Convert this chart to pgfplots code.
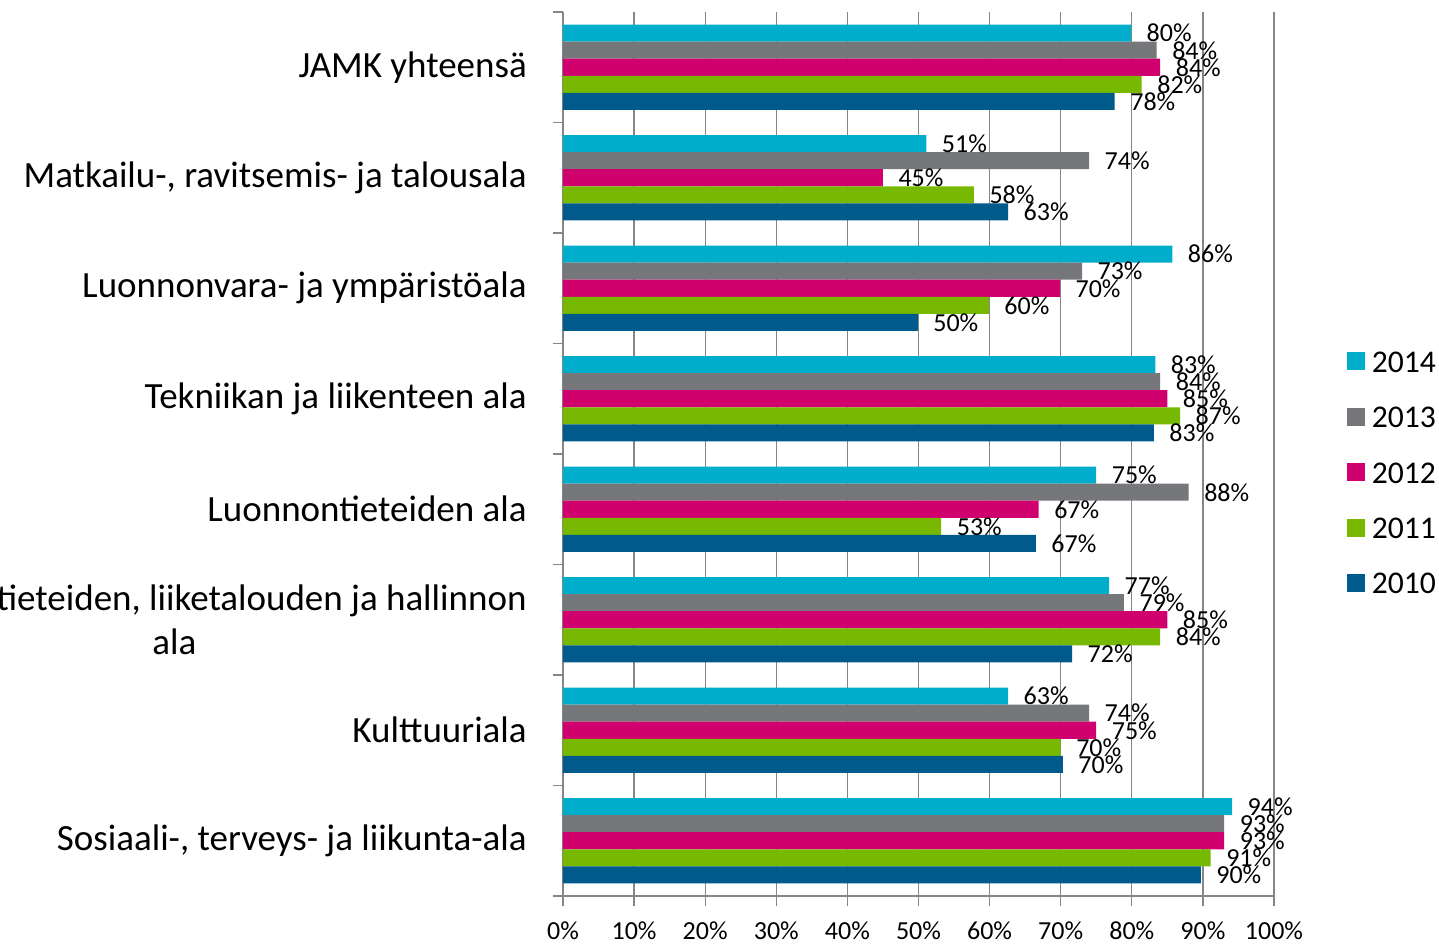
\documentclass[border=0pt]{standalone}
\usepackage{fontspec}
\setmainfont{Carlito}
\usepackage{pgfplots}
\pgfplotsset{compat=1.18}
\definecolor{c2014}{HTML}{00AECB}
\definecolor{c2013}{HTML}{76777B}
\definecolor{c2012}{HTML}{D1006F}
\definecolor{c2011}{HTML}{76B900}
\definecolor{c2010}{HTML}{005A8C}
\definecolor{gridc}{HTML}{868686}
\begin{document}
\begin{tikzpicture}
\begin{axis}[
  at={(0,0)}, anchor=south west,
  scale only axis, width=533.25pt, height=663pt,
  xmin=0, xmax=100, ymin=-0.5, ymax=7.5,
  xbar, bar width=0.154,
  /pgf/number format/assume math mode=true,
  axis lines*=left,
  axis line style={gridc, line width=1pt},
  xtick={0,10,...,100},
  xticklabel={\pgfmathprintnumber{\tick}\%},
  xmajorgrids, grid style={gridc, line width=1pt},
  tick align=outside,
  major tick length=7.5pt, minor tick length=7.5pt,
  x tick style={gridc, line width=1pt},
  xticklabel style={inner sep=0pt, yshift=-11.5pt, font=\fontsize{19.5}{20}\selectfont},
  ytick={0,...,7},
  minor ytick={-0.5,0.5,...,7.5},
  major y tick style={draw=none},
  minor y tick style={draw=gridc, line width=1pt},
  yticklabels={{Sosiaali-, terveys- ja liikunta-ala}, Kulttuuriala, {Yhteiskuntatieteiden, liiketalouden ja hallinnon\\ala}, Luonnontieteiden ala, Tekniikan ja liikenteen ala, Luonnonvara- ja ympäristöala, {Matkailu-, ravitsemis- ja talousala}, JAMK yhteensä},
  yticklabel style={align=center, inner sep=0pt, xshift=-19.5pt, font=\fontsize{27.75}{33}\selectfont},
  point meta=explicit,
  nodes near coords={\pgfmathprintnumber{\pgfplotspointmeta}\%},
  nodes near coords style={anchor=west, inner sep=0pt, xshift=11.5pt, text=black, font=\fontsize{19.5}{20}\selectfont},
  legend style={at={(axis description cs:1.102,0.4785)}, anchor=west, draw=none, fill=none, inner sep=0pt,
    font=\fontsize{23.7}{24}\selectfont, row sep=26.6pt,
    nodes={text height=15pt, text depth=0pt, inner sep=0pt},
    /tikz/every odd column/.style={column sep=5.25pt}},
  legend cell align=left,
  legend image code/.code={\fill[#1, draw=none] (0pt,-6.25pt) rectangle (13.5pt,7.25pt);},
]
\addplot[fill=c2014, draw=none, bar shift=0.308] coordinates {
 (94.1,0) [94] (62.6,1) [63] (76.8,2) [77] (75.0,3) [75] (83.3,4) [83] (85.7,5) [86] (51.1,6) [51] (79.9,7) [80]};
\addplot[fill=c2013, draw=none, bar shift=0.154] coordinates {
 (93.0,0) [93] (74.0,1) [74] (78.9,2) [79] (88.0,3) [88] (84.0,4) [84] (73.0,5) [73] (74.0,6) [74] (83.5,7) [84]};
\addplot[fill=c2012, draw=none, bar shift=0] coordinates {
 (93.0,0) [93] (75.0,1) [75] (85.0,2) [85] (66.9,3) [67] (85.0,4) [85] (69.9,5) [70] (45.0,6) [45] (84.0,7) [84]};
\addplot[fill=c2011, draw=none, bar shift=-0.154] coordinates {
 (91.1,0) [91] (70.0,1) [70] (84.0,2) [84] (53.2,3) [53] (86.8,4) [87] (59.9,5) [60] (57.8,6) [58] (81.4,7) [82]};
\addplot[fill=c2010, draw=none, bar shift=-0.308] coordinates {
 (89.7,0) [90] (70.3,1) [70] (71.6,2) [72] (66.5,3) [67] (83.1,4) [83] (49.9,5) [50] (62.6,6) [63] (77.6,7) [78]};
\legend{2014,2013,2012,2011,2010}
\end{axis}
\pgfresetboundingbox
\useasboundingbox (-422.25pt,-35.25pt) rectangle (657pt,672pt);
\end{tikzpicture}
\end{document}
